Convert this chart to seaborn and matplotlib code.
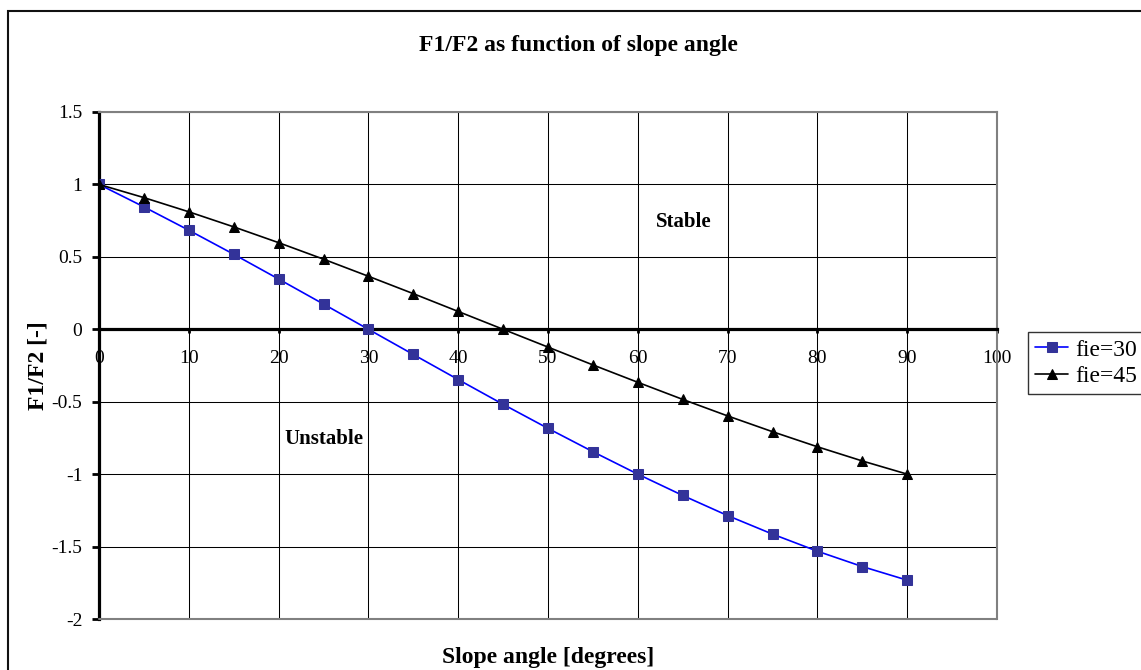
import numpy as np
import pandas as pd
import matplotlib
matplotlib.use("Agg")
import matplotlib.pyplot as plt
from matplotlib.patches import Rectangle
import seaborn as sns

# ---- data ----
angles = [0, 5, 10, 15, 20, 25, 30, 35, 40, 45, 50, 55, 60, 65, 70, 75, 80, 85, 90]
fie30 = [1.0, 0.845, 0.684, 0.518, 0.347, 0.174, 0.0, -0.174, -0.347, -0.518,
         -0.684, -0.845, -1.0, -1.147, -1.286, -1.414, -1.532, -1.638, -1.732]
fie45 = [1.0, 0.909, 0.811, 0.707, 0.598, 0.484, 0.366, 0.246, 0.123, 0.0,
         -0.123, -0.246, -0.366, -0.484, -0.598, -0.707, -0.811, -0.909, -1.0]
series_names = ["fie=30", "fie=45"]
x_ticks = [0, 10, 20, 30, 40, 50, 60, 70, 80, 90, 100]
y_ticks = [-2, -1.5, -1, -0.5, 0, 0.5, 1, 1.5]
y_tick_labels = ["-2", "-1.5", "-1", "-0.5", "0", "0.5", "1", "1.5"]
title = "F1/F2 as function of slope angle"
xlabel = "Slope angle [degrees]"
ylabel = "F1/F2 [-]"

df = pd.DataFrame({
    "angle": angles * 2,
    "value": fie30 + fie45,
    "series": [series_names[0]] * len(angles) + [series_names[1]] * len(angles),
})

sns.set_theme(style="white")
plt.rcParams["font.family"] = ["Liberation Serif", "DejaVu Serif"]
plt.rcParams["axes.unicode_minus"] = False
plt.rcParams["text.color"] = "black"
plt.rcParams["axes.labelcolor"] = "black"
plt.rcParams["xtick.color"] = "black"
plt.rcParams["ytick.color"] = "black"
plt.rcParams["legend.labelcolor"] = "black"

W, H = 1141, 670
fig = plt.figure(figsize=(W / 100, H / 100), dpi=100)
fig.patch.set_facecolor("white")

# outer chart frame
fig.patches.append(Rectangle((8 / W, -0.05), 1.2, 1 - 11 / H + 0.05,
                             transform=fig.transFigure, fill=False,
                             edgecolor="#111111", linewidth=1.5, zorder=0))

ax = fig.add_axes([99 / W, 1 - 619 / H, (997 - 99) / W, (619 - 112) / H])
ax.set_facecolor("white")

d30 = df[df["series"] == series_names[0]]
d45 = df[df["series"] == series_names[1]]
sns.lineplot(data=d30, x="angle", y="value", ax=ax, color="#0000FF", linewidth=1.2,
             marker="s", markersize=7, markerfacecolor="#333399",
             markeredgecolor="#333399", label=series_names[0], zorder=5)
sns.lineplot(data=d45, x="angle", y="value", ax=ax, color="black", linewidth=1.2,
             marker="^", markersize=7.5, markerfacecolor="black",
             markeredgecolor="black", label=series_names[1], zorder=5)

ax.set_xlim(0, 100)
ax.set_ylim(-2, 1.5)
ax.set_xticks(x_ticks)
ax.set_xticklabels([str(t) for t in x_ticks])
ax.set_yticks(y_ticks)
ax.set_yticklabels(y_tick_labels)

ax.grid(True, color="black", linewidth=0.75)
ax.set_axisbelow(True)

for s in ["top", "right"]:
    ax.spines[s].set_color("#808080")
    ax.spines[s].set_linewidth(1.5)
ax.spines["left"].set_color("black")
ax.spines["left"].set_linewidth(2.3)
ax.spines["bottom"].set_position(("data", 0))
ax.spines["bottom"].set_color("black")
ax.spines["bottom"].set_linewidth(2.3)
ax.spines["bottom"].set_zorder(4)
ax.axhline(-2, color="#808080", linewidth=1.5, zorder=3, clip_on=False)

ax.tick_params(axis="y", direction="out", length=5, width=2, color="black",
               labelcolor="black", pad=7, labelsize=14, left=True)
ax.tick_params(axis="x", direction="out", length=3, width=2, color="black",
               labelcolor="black", pad=12, labelsize=14, bottom=True)

ax.set_xlabel(xlabel, fontsize=17, fontweight="bold", va="center", color="black")
ax.xaxis.set_label_coords(0.5, -39 / 507)
ax.set_ylabel(ylabel, fontsize=17, fontweight="bold", va="center", color="black")
ax.yaxis.set_label_coords(-61 / 898, 0.5)

fig.text(578 / W, 1 - 46 / H, title, ha="center", va="center",
         fontsize=17, fontweight="bold", color="black")

ax.text(65.1, 0.74, "Stable", ha="center", va="center", fontsize=15,
        fontweight="bold", color="black")
ax.text(25.1, -0.76, "Unstable", ha="center", va="center", fontsize=15,
        fontweight="bold", color="black")

leg = ax.legend(loc="upper left", bbox_to_anchor=(1028 / W, 1 - 332 / H),
                bbox_transform=fig.transFigure, frameon=True, fancybox=False,
                shadow=False, fontsize=17, handlelength=1.4, handletextpad=0.3,
                borderpad=0.3, labelspacing=0.2, borderaxespad=0)
leg.get_frame().set_edgecolor("black")
leg.get_frame().set_linewidth(1.0)
for t in leg.get_texts():
    t.set_color("black")

fig.savefig("out.png", dpi=100, facecolor="white")
